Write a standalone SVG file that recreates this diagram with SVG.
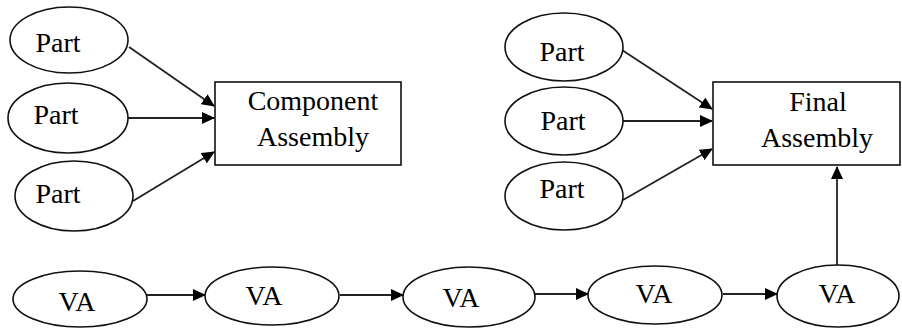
<svg xmlns="http://www.w3.org/2000/svg" width="902" height="328" viewBox="0 0 902 328">
<defs>
<marker id="ah" markerWidth="13" markerHeight="12" refX="12" refY="6" orient="auto" markerUnits="userSpaceOnUse">
<path d="M0,0 L13,6 L0,12 Z" fill="#000"/>
</marker>
<style>
.n{fill:#fff;stroke:#111;stroke-width:1.6}
.t{font-family:"Liberation Serif","Times New Roman",serif;font-size:28px;fill:#000;text-anchor:middle}
.c{stroke:#222;stroke-width:1.8;fill:none;marker-end:url(#ah)}
</style>
</defs>
<rect width="902" height="328" fill="#fff"/>
<g id="connectors">
<line class="c" x1="129" y1="47" x2="214" y2="106"/>
<line class="c" x1="128" y1="118" x2="214" y2="118"/>
<line class="c" x1="133" y1="201" x2="214" y2="152"/>
<line class="c" x1="622" y1="50" x2="712" y2="109"/>
<line class="c" x1="623" y1="121" x2="712" y2="121"/>
<line class="c" x1="623" y1="200" x2="712" y2="149"/>
<line class="c" x1="837" y1="265" x2="837" y2="167"/>
<line class="c" x1="147" y1="295" x2="205" y2="295"/>
<line class="c" x1="340" y1="295" x2="403" y2="295"/>
<line class="c" x1="535" y1="294" x2="588" y2="294"/>
<line class="c" x1="723" y1="294" x2="777" y2="294"/>
</g>
<g id="part1"><ellipse class="n" cx="69" cy="40" rx="59" ry="33"/><text class="t" x="58" y="52">Part</text></g>
<g id="part2"><ellipse class="n" cx="68" cy="118" rx="60" ry="35"/><text class="t" x="56" y="124">Part</text></g>
<g id="part3"><ellipse class="n" cx="74" cy="196" rx="59" ry="35"/><text class="t" x="58" y="203">Part</text></g>
<g id="component-assembly"><rect class="n" x="215" y="82" width="186" height="83"/><text class="t" x="313" y="110">Component</text><text class="t" x="313" y="146">Assembly</text></g>
<g id="part4"><ellipse class="n" cx="564" cy="47" rx="59" ry="34"/><text class="t" x="562" y="61">Part</text></g>
<g id="part5"><ellipse class="n" cx="564" cy="121" rx="59" ry="34"/><text class="t" x="563" y="130">Part</text></g>
<g id="part6"><ellipse class="n" cx="564" cy="196" rx="59" ry="34"/><text class="t" x="562" y="198">Part</text></g>
<g id="final-assembly"><rect class="n" x="713" y="82" width="187" height="83"/><text class="t" x="818" y="111">Final</text><text class="t" x="817" y="147">Assembly</text></g>
<g id="va1"><ellipse class="n" cx="80" cy="299" rx="67" ry="28"/><text class="t" x="77" y="311">VA</text></g>
<g id="va2"><ellipse class="n" cx="272" cy="296" rx="67" ry="29"/><text class="t" x="264" y="305">VA</text></g>
<g id="va3"><ellipse class="n" cx="469" cy="297" rx="66" ry="30"/><text class="t" x="461" y="307">VA</text></g>
<g id="va4"><ellipse class="n" cx="655" cy="295" rx="67" ry="29"/><text class="t" x="654" y="303">VA</text></g>
<g id="va5"><ellipse class="n" cx="838" cy="296" rx="61" ry="31"/><text class="t" x="837" y="303">VA</text></g>
</svg>
